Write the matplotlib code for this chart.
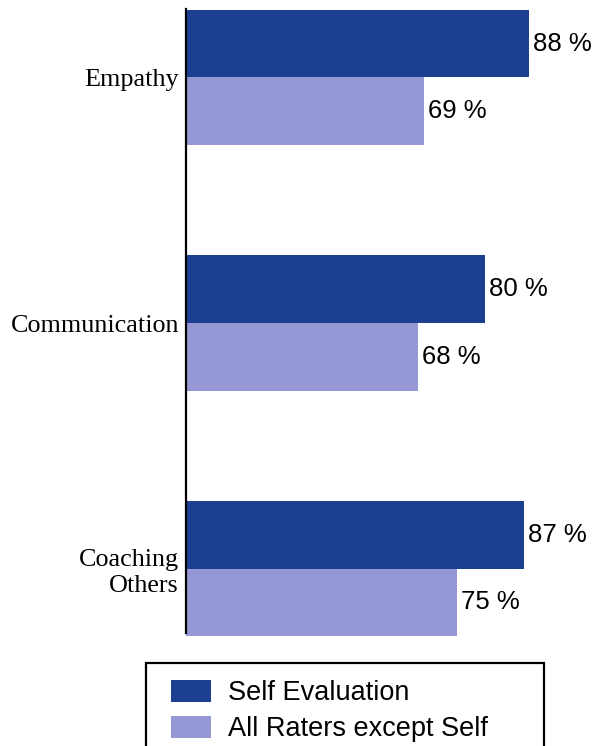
import matplotlib.pyplot as plt
from matplotlib.patches import Rectangle
import numpy as np

categories = ["Empathy", "Communication", "Coaching\nOthers"]
self_eval = [88, 80, 87]
all_raters = [69, 68, 75]
series_names = ["Self Evaluation", "All Raters except Self"]

dark_blue = "#1d3f92"
light_blue = "#9698d6"

fig = plt.figure(figsize=(5.92, 7.46), dpi=100)
ax = fig.add_axes([186 / 592, 1 - 637 / 746, 1 - 186 / 592, (637 - 9) / 746])

y = np.arange(len(categories))
h = 0.275
ax.barh(y - h / 2, self_eval, height=h, left=0, color=dark_blue, linewidth=0,
        label=series_names[0])
ax.barh(y + h / 2, all_raters, height=h, left=0, color=light_blue, linewidth=0,
        label=series_names[1])

for yi, v in zip(y, self_eval):
    ax.text(v + 0.7, yi - h / 2, f"{v} %", va="center", ha="left",
            fontsize=18.5, family="Liberation Sans")
for yi, v in zip(y, all_raters):
    ax.text(v + 0.7, yi + h / 2, f"{v} %", va="center", ha="left",
            fontsize=18.5, family="Liberation Sans")

ax.set_xlim(26, 99.35)
ax.set_ylim(2.278, -0.278)
ax.set_yticks(y)
ax.set_yticklabels(categories, fontsize=18.8, family="Liberation Serif",
                   linespacing=1.25)
ax.tick_params(axis="y", length=0, pad=5)
ax.set_xticks([])
for side in ["top", "right", "bottom"]:
    ax.spines[side].set_visible(False)
ax.spines["left"].set_linewidth(1.6)
ax.spines["left"].set_bounds(-0.278, 2.262)

# legend box
fig.add_artist(Rectangle((146 / 592, -0.05), (544 - 146) / 592, 1 - 663 / 746 + 0.05,
                         transform=fig.transFigure, facecolor="white",
                         edgecolor="black", linewidth=1.6))
fig.legend(loc="upper left", bbox_to_anchor=(171 / 592, 1 - 680 / 746),
           frameon=False, prop={"family": "Liberation Sans", "size": 19.5},
           handlelength=1.48, handleheight=0.85, handletextpad=0.62,
           labelspacing=0.36, borderpad=0, borderaxespad=0)

fig.savefig("out.png", dpi=100)
